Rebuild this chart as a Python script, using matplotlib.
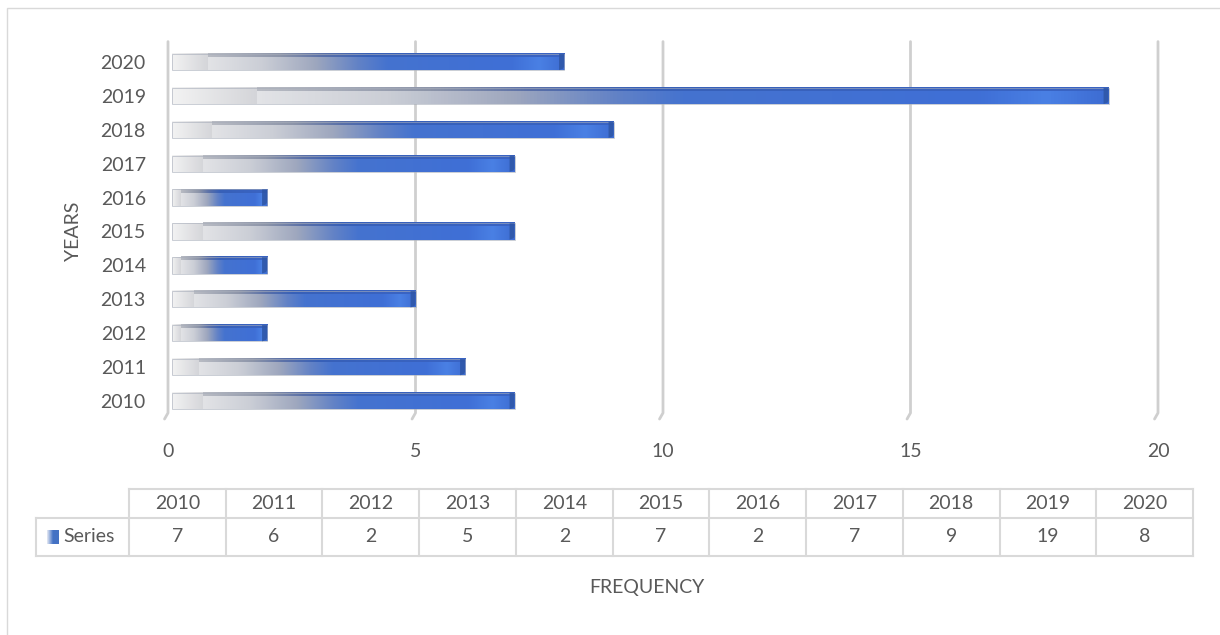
import numpy as np
import matplotlib.pyplot as plt
from matplotlib.colors import LinearSegmentedColormap
from matplotlib.patches import Rectangle, Polygon
from matplotlib.lines import Line2D

plt.rcParams['font.family'] = ['Lato', 'DejaVu Sans']

# data
years = ['2010', '2011', '2012', '2013', '2014', '2015', '2016', '2017', '2018', '2019', '2020']
frequency = [7, 6, 2, 5, 2, 7, 2, 7, 9, 19, 8]
x_ticks = [0, 5, 10, 15, 20]

txt_col = '#595959'
grid_col = '#cfcfcf'
fs = 14

W, H = 1220, 635


def fx(px):
    return px / W


def fy(py):
    return 1 - py / H


fig = plt.figure(figsize=(12.2, 6.35), dpi=100)
# chart border (cut at right/bottom)
fig.patches.append(Rectangle((fx(7), -0.1), 1.2, fy(8) + 0.1, transform=fig.transFigure,
                             fill=False, edgecolor='#d9d9d9', linewidth=1))

ax = fig.add_axes([fx(168), fy(418), fx(990), 373 / H])
for s in ax.spines.values():
    s.set_visible(False)
ax.set_xticks([])
ax.set_yticks(range(len(years)))
ax.set_yticklabels(years, fontsize=fs, color=txt_col)
ax.tick_params(axis='y', length=0, pad=16)
ax.set_ylabel('YEARS', fontsize=fs, color=txt_col, labelpad=13)

# 3d style gridlines with a small floor hook
for t in x_ticks:
    ax.plot([t, t, t - 0.07], [10.6, -0.35, -0.53], color=grid_col, lw=2,
            solid_capstyle='round', solid_joinstyle='round', clip_on=False, zorder=1)
    ax.text(t, -1.5, str(t), ha='center', va='center', fontsize=fs, color=txt_col)

face_cmap = LinearSegmentedColormap.from_list('face', [
    (0.0, '#e2e3e6'), (0.15, '#cbced6'), (0.3, '#9ea7be'), (0.42, '#6282c6'),
    (0.5, '#4573cf'), (0.85, '#3f6fd6'), (0.93, '#4a80e4'), (1.0, '#3d6cd2')])
top_cmap = LinearSegmentedColormap.from_list('top', [
    (0.0, '#b8bbc3'), (0.2, '#8d95a9'), (0.32, '#5a70a8'), (0.45, '#3760b8'), (1.0, '#3a64c4')])
stub_cmap = LinearSegmentedColormap.from_list('stub', ['#f3f3f3', '#d4d5d9'])
grad = np.linspace(0, 1, 256).reshape(1, -1)

bh = 0.48
tb = 0.09
for i, v in enumerate(frequency):
    x0 = 0.08
    s = x0 + 0.09 * v
    y0, y1 = i - bh / 2, i + bh / 2
    # left stub
    ax.imshow(grad, cmap=stub_cmap, aspect='auto', extent=[x0, s, y0, y1],
              zorder=2, interpolation='bicubic')
    # front face
    ax.imshow(grad, cmap=face_cmap, aspect='auto', extent=[s, v, y0, y1 - tb],
              zorder=2, interpolation='bicubic')
    # top face
    ax.imshow(grad, cmap=top_cmap, aspect='auto', extent=[s, v, y1 - tb, y1],
              zorder=2, interpolation='bicubic')
    # thin outline
    ax.add_patch(Rectangle((x0, y0), v - x0, bh, fill=False, edgecolor='#a7adba',
                           linewidth=0.7, alpha=0.6, zorder=3))
    # dark end cap
    ax.add_patch(Polygon([(v - 0.1, y0), (v - 0.02, y0 + 0.04), (v, y0 + 0.1), (v, y1),
                          (v - 0.1, y1)], closed=True, facecolor='#2e56a6',
                         edgecolor='none', alpha=0.85, zorder=3))
ax.set_xlim(0, 20)
ax.set_ylim(-0.5, 10.5)

# data table below the axis
tab_left, tab_col0, tab_right = 36, 129, 1193
row_top, row_mid, row_bot = 489, 518, 556
colw = (tab_right - tab_col0) / len(years)
lc = '#d9d9d9'


def hline(x_a, x_b, y):
    fig.lines.append(Line2D([fx(x_a), fx(x_b)], [fy(y)] * 2, color=lc, lw=1.5,
                            transform=fig.transFigure))


def vline(x, y_a, y_b):
    fig.lines.append(Line2D([fx(x)] * 2, [fy(y_a), fy(y_b)], color=lc, lw=1.5,
                            transform=fig.transFigure))


hline(tab_col0, tab_right, row_top)
hline(tab_left, tab_right, row_mid)
hline(tab_left, tab_right, row_bot)
vline(tab_left, row_mid, row_bot)
for k in range(len(years) + 1):
    vline(tab_col0 + k * colw, row_top, row_bot)
for k, (yr, v) in enumerate(zip(years, frequency)):
    cx = fx(tab_col0 + (k + 0.5) * colw)
    fig.text(cx, fy((row_top + row_mid) / 2), yr, ha='center', va='center', fontsize=fs, color=txt_col)
    fig.text(cx, fy((row_mid + row_bot) / 2), str(v), ha='center', va='center', fontsize=fs, color=txt_col)

# legend key in the table
key_ax = fig.add_axes([fx(47), fy(544), fx(12), 14 / H])
key_ax.imshow(grad, cmap=LinearSegmentedColormap.from_list('k', ['#e8ecf5', '#4472c4', '#4472c4']),
              aspect='auto', extent=[0, 1, 0, 1])
key_ax.set_axis_off()
fig.text(fx(63), fy((row_mid + row_bot) / 2), 'Series', ha='left', va='center', fontsize=fs, color=txt_col)

fig.text(fx(647), fy(588), 'FREQUENCY', ha='center', va='center', fontsize=fs, color=txt_col)

fig.savefig('out.png', dpi=100)
plt.close(fig)
